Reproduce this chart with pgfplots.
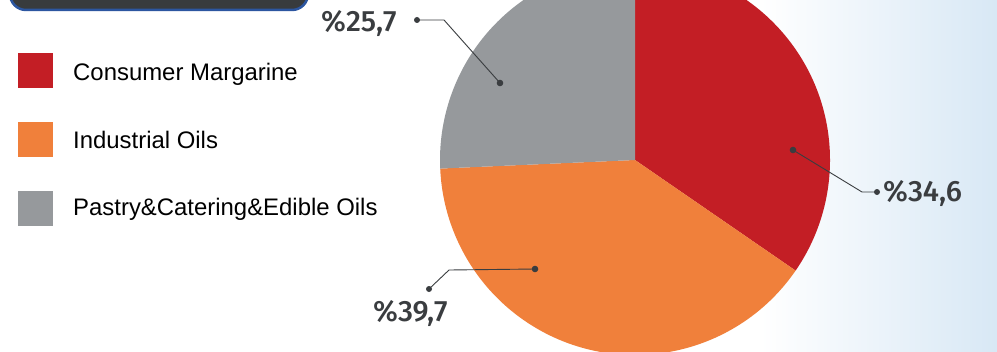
\documentclass[border=0pt]{standalone}
\usepackage{pgfplots}
\pgfplotsset{compat=1.18}
\usepackage{pgfplotstable}
\usepackage{fontspec}
\setmainfont{Liberation Sans}
\newfontfamily\pctfont{Fira Sans Medium}
\definecolor{cRed}{HTML}{C31E25}
\definecolor{cOrange}{HTML}{F0803B}
\definecolor{cGray}{HTML}{96999C}
\definecolor{boxFill}{HTML}{383B3D}
\definecolor{boxBorder}{HTML}{2C56A0}
\definecolor{bgBlue}{HTML}{D8E8F5}
\definecolor{pctText}{HTML}{3A3D40}
\definecolor{leader}{HTML}{3A3D40}

\pgfplotstableread{
name value
ConsumerMargarine 34.6
IndustrialOils 39.7
PastryCateringEdibleOils 25.7
}\piedata

\begin{document}
\begin{tikzpicture}
\pgfplotstablegetelem{0}{value}\of\piedata \let\vA\pgfplotsretval
\pgfplotstablegetelem{1}{value}\of\piedata \let\vB\pgfplotsretval
\pgfplotstablegetelem{2}{value}\of\piedata \let\vC\pgfplotsretval
\pgfmathsetmacro\aA{90}
\pgfmathsetmacro\aB{\aA-3.6*\vA}
\pgfmathsetmacro\aC{\aB-3.6*\vB}
\pgfmathsetmacro\aD{\aC-3.6*\vC}
\begin{axis}[
  width=997bp, height=351bp, scale only axis,
  xmin=0, xmax=997, ymin=0, ymax=351,
  hide axis, clip=true,
]
\coordinate (SW) at (axis cs:0,0);
\coordinate (NE) at (axis cs:997,351);
% background
\fill[white] (axis cs:0,0) rectangle (axis cs:997,351);
\shade[left color=white, right color=bgBlue] (axis cs:760,0) rectangle (axis cs:997,351);
% title box (cut off)
\draw[boxBorder, line width=2.5bp, fill=boxFill, rounded corners=16bp]
  (axis cs:10,341) rectangle (axis cs:308,400);
% pie
\fill[cRed] (axis cs:635,191) -- ++(\aA:195bp) arc[start angle=\aA, end angle=\aB, radius=195bp] -- cycle;
\fill[cOrange] (axis cs:635,191) -- ++(\aB:195bp) arc[start angle=\aB, end angle=\aC, radius=195bp] -- cycle;
\fill[cGray] (axis cs:635,191) -- ++(\aC:195bp) arc[start angle=\aC, end angle=\aD, radius=195bp] -- cycle;
% leaders
\draw[leader, line width=0.9bp] (axis cs:417,331) -- (axis cs:444,331) -- (axis cs:500,268);
\fill[leader] (axis cs:417,331) circle[radius=3bp];
\fill[leader] (axis cs:500,268) circle[radius=3.3bp];
\draw[leader, line width=0.9bp] (axis cs:877,159) -- (axis cs:862,159) -- (axis cs:793,201);
\fill[leader] (axis cs:877,159) circle[radius=3bp];
\fill[leader] (axis cs:793,201) circle[radius=3.3bp];
\draw[leader, line width=0.9bp] (axis cs:535,82) -- (axis cs:449,81) -- (axis cs:429,62);
\fill[leader] (axis cs:535,82) circle[radius=3.3bp];
\fill[leader] (axis cs:429,62) circle[radius=3bp];
% percentage labels
\node[anchor=base west, inner sep=0, text=pctText, font=\pctfont\fontsize{29.5}{31}\selectfont] at (axis cs:321,319) {\%25,7};
\node[anchor=base west, inner sep=0, text=pctText, font=\pctfont\fontsize{29.5}{31}\selectfont] at (axis cs:883,150) {\%34,6};
\node[anchor=base west, inner sep=0, text=pctText, font=\pctfont\fontsize{29.5}{31}\selectfont] at (axis cs:373,30) {\%39,7};
% legend
\fill[cRed] (axis cs:18,263) rectangle (axis cs:53,298);
\fill[cOrange] (axis cs:18,194) rectangle (axis cs:53,229);
\fill[cGray] (axis cs:18,125) rectangle (axis cs:53,160);
\node[anchor=base west, inner sep=0, font=\fontsize{24}{26}\selectfont] at (axis cs:73,270) {Consumer Margarine};
\node[anchor=base west, inner sep=0, font=\fontsize{24}{26}\selectfont] at (axis cs:73,203) {Industrial Oils};
\node[anchor=base west, inner sep=0, font=\fontsize{24}{26}\selectfont] at (axis cs:73,136) {Pastry\&Catering\&Edible Oils};
\end{axis}
\pgfresetboundingbox
\path[use as bounding box] (SW) rectangle (NE);
\end{tikzpicture}
\end{document}
